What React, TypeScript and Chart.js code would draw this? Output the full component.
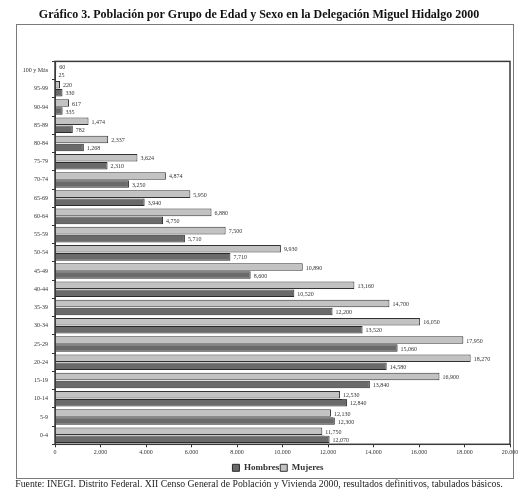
import React, { useEffect, useRef } from "react";
import { Chart, registerables } from "chart.js";

Chart.register(...registerables);

const titleText =
  "Gráfico 3. Población por Grupo de Edad y Sexo en la Delegación Miguel Hidalgo 2000";
const sourceText =
  "Fuente: INEGI. Distrito Federal. XII Censo General de Población y Vivienda 2000, resultados definitivos, tabulados básicos.";

const ageGroups = [
  "100 y Más", "95-99", "90-94", "85-89", "80-84", "75-79", "70-74",
  "65-69", "60-64", "55-59", "50-54", "45-49", "40-44", "35-39",
  "30-34", "25-29", "20-24", "15-19", "10-14", "5-9", "0-4",
];

const hombres = [
  25, 330, 335, 782, 1268, 2310, 3250, 3940, 4750, 5710, 7710,
  8600, 10520, 12200, 13520, 15060, 14580, 13840, 12840, 12300, 12070,
];

const mujeres = [
  60, 220, 617, 1474, 2337, 3624, 4874, 5950, 6880, 7500, 9930,
  10890, 13160, 14700, 16050, 17950, 18270, 16900, 12530, 12130, 11750,
];

const xMin = 0;
const xMax = 20000;
const xStep = 2000;

const serif = "'Liberation Serif', 'DejaVu Serif', serif";

const fmtDot = (v: number) => String(Math.round(v)).replace(/\B(?=(\d{3})+(?!\d))/g, ".");
const fmtComma = (v: number) => String(Math.round(v)).replace(/\B(?=(\d{3})+(?!\d))/g, ",");

const framePlugin = {
  id: "framePlugin",
  afterLayout(chart: any) {
    const lg = chart.legend;
    if (lg) {
      lg.left += 19;
      lg.right += 19;
      lg.top += 5;
      lg.bottom += 5;
    }
  },
  beforeDraw(chart: any) {
    const { ctx, width, height } = chart;
    ctx.save();
    ctx.fillStyle = "#ffffff";
    ctx.fillRect(0, 0, width, height);
    ctx.strokeStyle = "#7a7a7a";
    ctx.lineWidth = 1;
    ctx.strokeRect(16.5, 24.5, 497, 454);
    ctx.restore();
  },
  afterDraw(chart: any) {
    const { ctx, chartArea } = chart;
    ctx.save();
    ctx.strokeStyle = "#3a3a3a";
    ctx.lineWidth = 1.5;
    ctx.strokeRect(chartArea.left, chartArea.top, chartArea.right - chartArea.left, chartArea.bottom - chartArea.top);
    ctx.restore();
  },
};

const valueLabels = {
  id: "valueLabels",
  afterDatasetsDraw(chart: any) {
    const ctx = chart.ctx;
    ctx.save();
    ctx.font = `6px ${serif}`;
    ctx.textBaseline = "middle";
    chart.data.datasets.forEach((ds: any, i: number) => {
      const meta = chart.getDatasetMeta(i);
      meta.data.forEach((bar: any, j: number) => {
        const txt = fmtComma(ds.data[j]);
        const w = ctx.measureText(txt).width;
        const x = bar.x + 3;
        const y = bar.y + 1;
        ctx.fillStyle = "#ffffff";
        ctx.fillRect(x - 1, y - 3.5, w + 2, 7);
        ctx.fillStyle = "#333333";
        ctx.fillText(txt, x, y);
      });
    });
    ctx.restore();
  },
};

export default function App() {
  const ref = useRef<HTMLCanvasElement | null>(null);

  useEffect(() => {
    if (!ref.current) return;
    const chart = new Chart(ref.current, {
      type: "bar",
      data: {
        labels: ageGroups,
        datasets: [
          {
            label: "Mujeres",
            data: mujeres,
            backgroundColor: "#c2c2c2",
            borderColor: "#333333",
            borderWidth: 1,
            categoryPercentage: 0.88,
            barPercentage: 0.94,
          },
          {
            label: "Hombres",
            data: hombres,
            backgroundColor: "#6a6a6a",
            borderColor: "#2a2a2a",
            borderWidth: 1,
            categoryPercentage: 0.88,
            barPercentage: 0.94,
          },
        ],
      },
      options: {
        indexAxis: "y",
        responsive: false,
        animation: false,
        devicePixelRatio: 1,
        layout: { padding: { left: 8, right: 8, top: 0, bottom: 0 } },
        scales: {
          x: {
            min: xMin,
            max: xMax,
            ticks: {
              stepSize: xStep,
              callback: (v: any) => fmtDot(Number(v)),
              font: { family: serif, size: 6 },
              color: "#333",
              padding: 2,
              maxRotation: 0,
            },
            grid: { drawOnChartArea: false, drawTicks: true, tickLength: 3, color: "#333" },
            border: { display: true, color: "#333" },
            afterFit: (s: any) => { s.height = 13; s.paddingRight = 0; s.paddingLeft = 0; },
          },
          y: {
            ticks: {
              font: { family: serif, size: 6 },
              color: "#333",
              padding: 4,
              autoSkip: false,
            },
            grid: { drawOnChartArea: false, drawTicks: true, tickLength: 3, color: "#333" },
            border: { display: true, color: "#333" },
            afterFit: (s: any) => { s.width = 47; },
          },
        },
        plugins: {
          title: {
            display: true,
            text: titleText,
            font: { family: serif, size: 12, weight: "bold" },
            color: "#111",
            padding: { top: 8, bottom: 39 },
          },
          subtitle: {
            display: true,
            text: sourceText,
            position: "bottom",
            font: { family: serif, size: 9.75 },
            color: "#222",
            padding: { top: 1, bottom: 0 },
          },
          legend: {
            position: "bottom",
            reverse: true,
            labels: {
              boxWidth: 7,
              boxHeight: 7,
              padding: 1,
              font: { family: serif, size: 9, weight: "bold" },
              color: "#333",
            },
          },
          tooltip: { enabled: false },
        },
      },
      plugins: [framePlugin, valueLabels],
    });
    return () => chart.destroy();
  }, []);

  return (
    <div style={{ position: "absolute", left: 0, top: 0, width: 518, height: 490 }}>
      <canvas ref={ref} width={518} height={490} />
    </div>
  );
}
